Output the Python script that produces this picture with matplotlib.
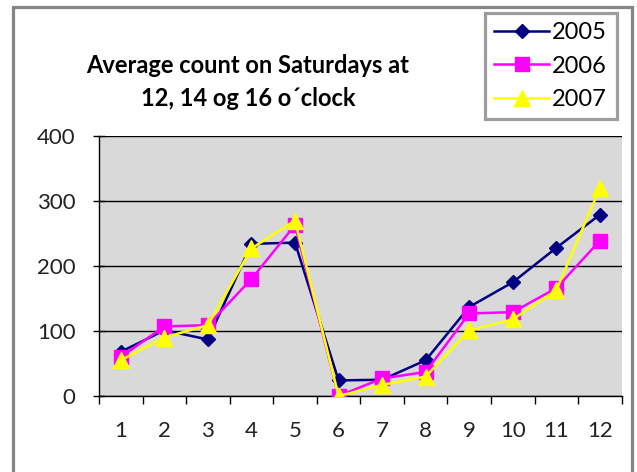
import matplotlib
matplotlib.use("Agg")
import matplotlib.pyplot as plt
from matplotlib.patches import Rectangle

plt.rcParams['font.family'] = ['Lato', 'DejaVu Sans']

categories = [1, 2, 3, 4, 5, 6, 7, 8, 9, 10, 11, 12]
series_names = ["2005", "2006", "2007"]
values_2005 = [68, 101, 87, 234, 236, 24, 25, 55, 137, 175, 228, 279]
values_2006 = [60, 107, 109, 180, 263, 0, 27, 37, 127, 129, 166, 239]
values_2007 = [55, 90, 109, 227, 270, 0, 17, 30, 101, 118, 163, 320]
y_ticks = [0, 100, 200, 300, 400]

W, H = 637, 472
fig = plt.figure(figsize=(W / 100, H / 100), dpi=100)
fig.patch.set_facecolor("white")

def fx(px):
    return px / W

def fy(py):
    return 1 - py / H

# outer chart border
fig.patches.append(Rectangle((fx(13), fy(500)), fx(632) - fx(13), fy(7) - fy(500),
                             transform=fig.transFigure, fill=False,
                             edgecolor="#858585", linewidth=2.3))

ax = fig.add_axes([fx(99), fy(396), fx(621.7) - fx(99), fy(136) - fy(396)])
ax.set_facecolor("#D9D9D9")

x = list(range(len(categories)))
ax.plot(x, values_2005, color="#000080", marker="D", markersize=7, linewidth=1.8,
        label=series_names[0], zorder=3)
ax.plot(x, values_2006, color="#FF00FF", marker="s", markersize=10, linewidth=1.8,
        label=series_names[1], zorder=4)
ax.plot(x, values_2007, color="#FFFF00", marker="^", markersize=11, linewidth=1.8,
        label=series_names[2], zorder=5)

ax.set_xlim(-0.5, len(categories) - 0.5)
ax.set_ylim(0, 400)
ax.set_yticks(y_ticks)
ax.set_yticklabels([str(v) for v in y_ticks], fontsize=16, color="#222222")
ax.set_xticks(x)
ax.set_xticklabels([str(c) for c in categories], fontsize=16, color="#222222")
ax.tick_params(axis="x", length=0, pad=18)
ax.set_xticks([i - 0.5 for i in range(len(categories) + 1)], minor=True)
ax.tick_params(axis="x", which="minor", length=6, width=1, direction="out", color="black")
ax.tick_params(axis="y", length=8, width=1, direction="inout", pad=13, color="black")

ax.grid(axis="y", color="black", linewidth=1)
ax.set_axisbelow(True)
for side in ["top", "right"]:
    ax.spines[side].set_visible(False)
ax.spines["left"].set_color("black")
ax.spines["bottom"].set_color("black")
ax.spines["left"].set_linewidth(1)
ax.spines["bottom"].set_linewidth(1)

fig.text(fx(248), fy(82), "Average count on Saturdays at\n12, 14 og 16 o\u00b4clock",
         ha="center", va="center", fontsize=17, fontweight="bold", linespacing=1.55,
         color="black")

leg = fig.legend(loc="upper left", bbox_to_anchor=(fx(485), fy(13)),
                 bbox_transform=fig.transFigure, fontsize=17, numpoints=1,
                 frameon=True, fancybox=False, handlelength=2.3, handletextpad=0.15,
                 labelspacing=0.52, borderpad=0.4, borderaxespad=0)
leg.get_frame().set_edgecolor("#858585")
leg.get_frame().set_linewidth(2.3)

fig.savefig("out.png", dpi=100)
